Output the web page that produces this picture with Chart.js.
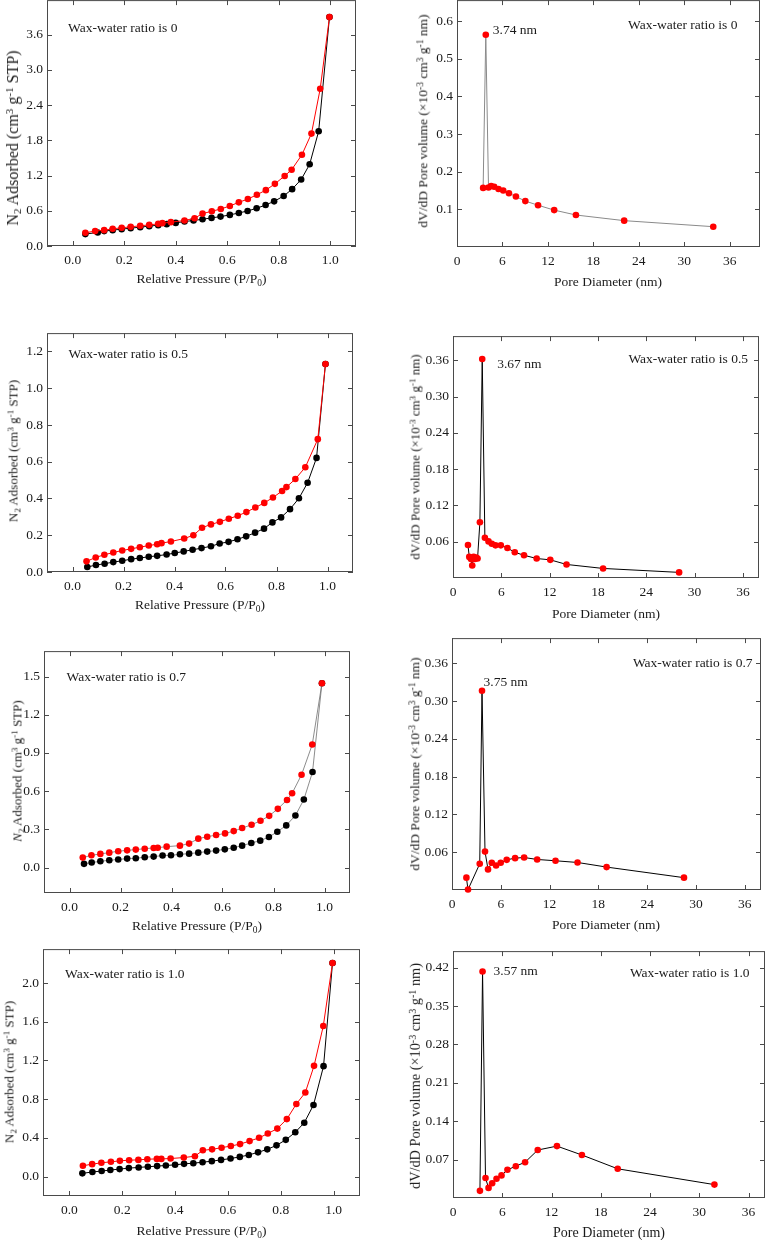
<!DOCTYPE html>
<html>
<head>
<meta charset="utf-8">
<title>N2 adsorption isotherms and pore size distributions</title>
<script src="https://cdn.jsdelivr.net/npm/chart.js@4.4.1/dist/chart.umd.min.js"></script>
<style>
  html, body { margin: 0; padding: 0; background: #fff; }
  body { width: 766px; height: 1240px; position: relative; overflow: hidden;
         font-family: "Liberation Serif", "Times New Roman", serif; color: #1a1a1a; }
  canvas { position: absolute; }
  .ttl { position: absolute; white-space: nowrap; line-height: 1; transform: translate(-50%, -50%); }
  .ttl.v { transform: translate(-50%, -50%) rotate(-90deg); }
  .ttl sup { font-size: 70%; vertical-align: 0.45em; line-height: 0; }
  .ttl sub { font-size: 70%; vertical-align: -0.3em; line-height: 0; }
</style>
</head>
<body>
<script>
/* ---- tick labels ---- */
const isoXTicks = [0, 0.2, 0.4, 0.6, 0.8, 1.0];
const poreXTicks = [0, 6, 12, 18, 24, 30, 36];
const r0IsoYTicks = [0, 0.6, 1.2, 1.8, 2.4, 3.0, 3.6];
const r0PoreYTicks = [0.1, 0.2, 0.3, 0.4, 0.5, 0.6];
const r05IsoYTicks = [0, 0.2, 0.4, 0.6, 0.8, 1.0, 1.2];
const r05PoreYTicks = [0.06, 0.12, 0.18, 0.24, 0.30, 0.36];
const r07IsoYTicks = [0, 0.3, 0.6, 0.9, 1.2, 1.5];
const r07PoreYTicks = [0.06, 0.12, 0.18, 0.24, 0.30, 0.36];
const r10IsoYTicks = [0, 0.4, 0.8, 1.2, 1.6, 2.0];
const r10PoreYTicks = [0.07, 0.14, 0.21, 0.28, 0.35, 0.42];

/* ---- wax-water ratio 0 ---- */
const r0AdsP = [0.049, 0.097, 0.122, 0.155, 0.190, 0.225, 0.262, 0.297, 0.332, 0.365, 0.400, 0.434, 0.469, 0.504, 0.539, 0.574, 0.610, 0.645, 0.679, 0.714, 0.749, 0.782, 0.819, 0.852, 0.887, 0.920, 0.955, 0.997];
const r0AdsV = [0.203, 0.231, 0.254, 0.270, 0.287, 0.304, 0.321, 0.338, 0.355, 0.372, 0.394, 0.417, 0.434, 0.456, 0.479, 0.501, 0.530, 0.563, 0.597, 0.642, 0.699, 0.761, 0.851, 0.969, 1.132, 1.392, 1.955, 3.90];
const r0DesP = [0.049, 0.087, 0.122, 0.155, 0.190, 0.225, 0.262, 0.297, 0.332, 0.348, 0.381, 0.434, 0.473, 0.504, 0.540, 0.575, 0.610, 0.645, 0.680, 0.715, 0.750, 0.785, 0.823, 0.850, 0.890, 0.927, 0.961, 0.997];
const r0DesV = [0.225, 0.254, 0.270, 0.293, 0.310, 0.327, 0.344, 0.360, 0.377, 0.389, 0.406, 0.434, 0.473, 0.552, 0.592, 0.631, 0.682, 0.744, 0.800, 0.873, 0.952, 1.059, 1.194, 1.300, 1.555, 1.915, 2.680, 3.90];
const r0PoreD = [3.45, 3.80, 4.16, 4.51, 4.91, 5.48, 6.10, 6.86, 7.78, 9.02, 10.70, 12.83, 15.70, 22.07, 33.83];
const r0PoreV = [0.157, 0.564, 0.158, 0.162, 0.160, 0.154, 0.150, 0.143, 0.134, 0.122, 0.111, 0.098, 0.085, 0.070, 0.054];

/* ---- wax-water ratio 0.5 ---- */
const r05AdsP = [0.058, 0.092, 0.126, 0.160, 0.195, 0.230, 0.264, 0.299, 0.332, 0.369, 0.401, 0.436, 0.471, 0.506, 0.543, 0.577, 0.612, 0.647, 0.681, 0.716, 0.751, 0.784, 0.818, 0.853, 0.888, 0.922, 0.957, 0.992];
const r05AdsV = [0.027, 0.038, 0.045, 0.054, 0.061, 0.070, 0.076, 0.083, 0.088, 0.095, 0.103, 0.112, 0.121, 0.130, 0.140, 0.155, 0.164, 0.178, 0.194, 0.214, 0.236, 0.270, 0.297, 0.342, 0.401, 0.486, 0.621, 1.132];
const r05DesP = [0.055, 0.091, 0.125, 0.160, 0.195, 0.230, 0.264, 0.299, 0.332, 0.349, 0.386, 0.438, 0.474, 0.508, 0.543, 0.578, 0.613, 0.648, 0.682, 0.717, 0.752, 0.786, 0.822, 0.839, 0.874, 0.913, 0.962, 0.992];
const r05DesV = [0.058, 0.079, 0.094, 0.106, 0.117, 0.126, 0.135, 0.144, 0.151, 0.157, 0.166, 0.182, 0.200, 0.241, 0.259, 0.273, 0.290, 0.306, 0.326, 0.351, 0.376, 0.405, 0.441, 0.462, 0.506, 0.570, 0.723, 1.132];
const r05PoreD = [1.86, 2.02, 2.23, 2.39, 2.56, 2.72, 2.89, 3.05, 3.34, 3.63, 3.96, 4.41, 4.82, 5.28, 5.94, 6.76, 7.67, 8.82, 10.39, 12.08, 14.10, 18.64, 28.08];
const r05PoreV = [0.0545, 0.0349, 0.0316, 0.0207, 0.0349, 0.0316, 0.0338, 0.0322, 0.0922, 0.3622, 0.0665, 0.0605, 0.0567, 0.0540, 0.0540, 0.0496, 0.0425, 0.0376, 0.0322, 0.0300, 0.0224, 0.0158, 0.0093];

/* ---- wax-water ratio 0.7 ---- */
const r07AdsP = [0.057, 0.087, 0.121, 0.156, 0.191, 0.226, 0.260, 0.295, 0.330, 0.365, 0.398, 0.433, 0.469, 0.505, 0.540, 0.575, 0.609, 0.644, 0.677, 0.713, 0.748, 0.782, 0.815, 0.850, 0.886, 0.919, 0.953, 0.990];
const r07AdsV = [0.029, 0.039, 0.049, 0.057, 0.063, 0.070, 0.073, 0.081, 0.086, 0.094, 0.096, 0.104, 0.109, 0.117, 0.125, 0.133, 0.143, 0.156, 0.172, 0.193, 0.211, 0.240, 0.281, 0.331, 0.409, 0.534, 0.750, 1.448];
const r07DesP = [0.052, 0.086, 0.121, 0.156, 0.191, 0.226, 0.260, 0.295, 0.330, 0.346, 0.381, 0.433, 0.469, 0.505, 0.540, 0.575, 0.610, 0.644, 0.677, 0.714, 0.749, 0.783, 0.817, 0.853, 0.873, 0.910, 0.952, 0.990];
const r07DesV = [0.078, 0.096, 0.107, 0.117, 0.128, 0.135, 0.141, 0.148, 0.154, 0.156, 0.164, 0.172, 0.188, 0.227, 0.242, 0.255, 0.268, 0.286, 0.310, 0.336, 0.367, 0.406, 0.461, 0.531, 0.583, 0.729, 0.966, 1.448];
const r07PoreD = [1.77, 1.97, 3.41, 3.69, 4.06, 4.43, 4.89, 5.42, 5.99, 6.73, 7.76, 8.87, 10.47, 12.73, 15.44, 19.01, 28.53];
const r07PoreV = [0.0196, 0.0007, 0.0416, 0.3165, 0.0610, 0.0327, 0.0432, 0.0390, 0.0432, 0.0479, 0.0506, 0.0516, 0.0485, 0.0464, 0.0437, 0.0364, 0.0196];

/* ---- wax-water ratio 1.0 ---- */
const r10AdsP = [0.049, 0.087, 0.122, 0.155, 0.190, 0.225, 0.262, 0.297, 0.332, 0.365, 0.400, 0.434, 0.469, 0.504, 0.539, 0.574, 0.610, 0.645, 0.679, 0.714, 0.749, 0.784, 0.819, 0.855, 0.889, 0.924, 0.962, 0.996];
const r10AdsV = [0.034, 0.048, 0.058, 0.068, 0.078, 0.088, 0.095, 0.102, 0.109, 0.115, 0.122, 0.132, 0.139, 0.149, 0.160, 0.173, 0.187, 0.204, 0.224, 0.251, 0.282, 0.323, 0.380, 0.458, 0.557, 0.740, 1.141, 2.207];
const r10DesP = [0.051, 0.086, 0.121, 0.157, 0.191, 0.226, 0.261, 0.295, 0.331, 0.348, 0.383, 0.433, 0.475, 0.505, 0.540, 0.576, 0.611, 0.646, 0.682, 0.718, 0.751, 0.787, 0.823, 0.859, 0.893, 0.926, 0.961, 0.996];
const r10DesV = [0.112, 0.129, 0.143, 0.153, 0.163, 0.170, 0.173, 0.180, 0.183, 0.183, 0.187, 0.197, 0.211, 0.272, 0.282, 0.299, 0.316, 0.336, 0.367, 0.401, 0.445, 0.496, 0.594, 0.750, 0.869, 1.144, 1.555, 2.207];
const r10PoreD = [3.28, 3.60, 3.96, 4.33, 4.77, 5.30, 5.91, 6.63, 7.65, 8.78, 10.32, 12.66, 15.70, 20.06, 31.84];
const r10PoreV = [0.013, 0.4128, 0.0364, 0.0184, 0.0268, 0.0352, 0.0412, 0.0514, 0.0580, 0.0652, 0.0874, 0.0946, 0.0784, 0.0532, 0.0244];

/* ---- look ---- */
const RED = "#ff0000";
const BLACK = "#000000";
const FONT = '"Liberation Serif", "Times New Roman", serif';
const YW = 50, XH = 30, PT = 10, PR = 10;   // axis / padding room around each plot box

const ISO_X = "Relative Pressure (P/P<sub>0</sub>)";
const ISO_Y = "N<sub>2</sub> Adsorbed (cm<sup>3</sup> g<sup>-1</sup> STP)";
const ISO_Y_IT = "<i>N</i><sub>2</sub> Adsorbed (cm<sup>3</sup> g<sup>-1</sup> STP)";
const PORE_X = "Pore Diameter (nm)";
const PORE_Y = "dV/dD Pore volume (&times;10<sup>-3</sup> cm<sup>3</sup> g<sup>-1</sup> nm)";

const iso = (desP, desV, adsP, adsV, line, lw) => [
  { xs: desP, ys: desV, dot: RED, line: line || RED, lw: lw || 1 },
  { xs: adsP, ys: adsV, dot: BLACK, line: line || BLACK, lw: lw || 1 },
];
const pore = (d, v, line) => [{ xs: d, ys: v, dot: RED, line: line, lw: 1 }];

const PANELS = [
  { box: [47, -2, 356, 246], x: [-0.1, 1.1], y: [0, 4.19], xt: isoXTicks, yt: r0IsoYTicks, xd: 1, yd: 1,
    series: iso(r0DesP, r0DesV, r0AdsP, r0AdsV),
    note: { text: "Wax-water ratio is 0", dx: 21, dy: 28, align: "left" },
    xTitle: [ISO_X, 201.5, 279, 13.5], yTitle: [ISO_Y, 13, 138, 16] },
  { box: [457, -2, 760, 247], x: [0, 40], y: [0, 0.656], xt: poreXTicks, yt: r0PoreYTicks, xd: 0, yd: 1,
    series: pore(r0PoreD, r0PoreV, "#8a8a8a"),
    note: { text: "Wax-water ratio is 0", dx: 22.5, dy: 25, align: "right" },
    peak: { text: "3.74 nm", dx: 7, dy: -4 },
    xTitle: [PORE_X, 608, 282, 13.5], yTitle: [PORE_Y, 423, 121, 13.5] },
  { box: [47, 331, 353, 572], x: [-0.1, 1.1], y: [0, 1.3], xt: isoXTicks, yt: r05IsoYTicks, xd: 1, yd: 1,
    series: iso(r05DesP, r05DesV, r05AdsP, r05AdsV),
    note: { text: "Wax-water ratio is 0.5", dx: 21.5, dy: 21, align: "left" },
    xTitle: [ISO_X, 200, 605, 13.5], yTitle: [ISO_Y, 13, 451, 13] },
  { box: [453, 334, 759, 578], x: [0, 38], y: [0, 0.4], xt: poreXTicks, yt: r05PoreYTicks, xd: 0, yd: 2,
    series: pore(r05PoreD, r05PoreV, BLACK),
    note: { text: "Wax-water ratio is 0.5", dx: 11, dy: 23.5, align: "right" },
    peak: { text: "3.67 nm", dx: 15, dy: 5.5 },
    xTitle: [PORE_X, 606, 614, 13.5], yTitle: [PORE_Y, 415, 457, 13] },
  { box: [44, 649, 350, 893], x: [-0.1, 1.1], y: [-0.2, 1.7], xt: isoXTicks, yt: r07IsoYTicks, xd: 1, yd: 1,
    series: iso(r07DesP, r07DesV, r07AdsP, r07AdsV, "#6e6e6e", 0.8),
    note: { text: "Wax-water ratio is 0.7", dx: 22.5, dy: 26, align: "left" },
    xTitle: [ISO_X, 197, 926, 13.5], yTitle: [ISO_Y_IT, 16.5, 771, 13] },
  { box: [452, 636, 761, 890], x: [0, 38], y: [0, 0.4], xt: poreXTicks, yt: r07PoreYTicks, xd: 0, yd: 2,
    series: pore(r07PoreD, r07PoreV, BLACK),
    note: { text: "Wax-water ratio is 0.7", dx: 8.5, dy: 25.5, align: "right" },
    peak: { text: "3.75 nm", dx: 1.5, dy: -8.5 },
    xTitle: [PORE_X, 606, 925, 13.5], yTitle: [PORE_Y, 415, 764, 13.5] },
  { box: [43, 947, 360, 1196], x: [-0.1, 1.1], y: [-0.2, 2.35], xt: isoXTicks, yt: r10IsoYTicks, xd: 1, yd: 1,
    series: iso(r10DesP, r10DesV, r10AdsP, r10AdsV),
    note: { text: "Wax-water ratio is 1.0", dx: 22, dy: 25.5, align: "left" },
    xTitle: [ISO_X, 201.5, 1231, 13.5], yTitle: [ISO_Y, 9, 1072, 13] },
  { box: [453, 949, 765, 1198], x: [0, 38], y: [0, 0.45], xt: poreXTicks, yt: r10PoreYTicks, xd: 0, yd: 2,
    series: pore(r10PoreD, r10PoreV, BLACK),
    note: { text: "Wax-water ratio is 1.0", dx: 15.5, dy: 22.5, align: "right" },
    peak: { text: "3.57 nm", dx: 11, dy: -0.5 },
    xTitle: [PORE_X, 609, 1233, 14], yTitle: [PORE_Y, 415, 1076, 14.3] },
];

// box + inward ticks on all four sides, drawn with the chart's own scales
const framePlugin = {
  id: "frame",
  beforeDatasetsDraw(chart, args, o) {
    const { ctx, chartArea: a, scales } = chart;
    const t = 5;
    ctx.save();
    ctx.strokeStyle = "#4a4a4a";
    ctx.lineWidth = 1;
    ctx.strokeRect(a.left + 0.5, a.top + 0.5, a.right - a.left - 1, a.bottom - a.top - 1);
    ctx.beginPath();
    o.xt.forEach((v) => {
      const px = Math.round(scales.x.getPixelForValue(v)) + 0.5;
      ctx.moveTo(px, a.bottom); ctx.lineTo(px, a.bottom - t);
      ctx.moveTo(px, a.top); ctx.lineTo(px, a.top + t);
    });
    o.yt.forEach((v) => {
      const py = Math.round(scales.y.getPixelForValue(v)) + 0.5;
      ctx.moveTo(a.left, py); ctx.lineTo(a.left + t, py);
      ctx.moveTo(a.right, py); ctx.lineTo(a.right - t, py);
    });
    ctx.stroke();
    ctx.restore();
  },
  afterDatasetsDraw(chart, args, o) {
    const { ctx, chartArea: a, scales } = chart;
    ctx.save();
    ctx.font = `13.5px ${FONT}`;
    ctx.fillStyle = "#1a1a1a";
    ctx.textBaseline = "middle";
    if (o.note) {
      ctx.textAlign = o.note.align;
      const nx = o.note.align === "left" ? a.left + o.note.dx : a.right - o.note.dx;
      ctx.fillText(o.note.text, nx, a.top + o.note.dy);
    }
    if (o.peak) {
      const s = o.series[0];
      let k = 0;
      s.ys.forEach((v, i) => { if (v > s.ys[k]) k = i; });
      ctx.textAlign = "left";
      ctx.fillText(o.peak.text,
        scales.x.getPixelForValue(s.xs[k]) + o.peak.dx,
        scales.y.getPixelForValue(s.ys[k]) + o.peak.dy);
    }
    ctx.restore();
  },
};

function addTitle(spec, vertical) {
  const [html, cx, cy, size] = spec;
  const d = document.createElement("div");
  d.className = vertical ? "ttl v" : "ttl";
  d.innerHTML = html;
  d.style.left = cx + "px";
  d.style.top = cy + "px";
  d.style.fontSize = size + "px";
  document.body.appendChild(d);
}

function buildPanel(p) {
  const [L, T, R, B] = p.box;
  const w = R - L + YW + PR, h = B - T + PT + XH;
  const cv = document.createElement("canvas");
  cv.width = w; cv.height = h;
  cv.style.left = (L - YW) + "px";
  cv.style.top = (T - PT) + "px";
  cv.style.width = w + "px";
  cv.style.height = h + "px";
  document.body.appendChild(cv);

  const tickFont = { family: FONT, size: 13.5 };
  const axis = (range, ticks, dec, isX) => ({
    type: "linear",
    position: isX ? "bottom" : "left",
    min: range[0], max: range[1],
    afterBuildTicks: (s) => { s.ticks = ticks.map((v) => ({ value: v })); },
    afterFit: (s) => { if (isX) s.height = XH; else s.width = YW; },
    grid: { display: false, drawTicks: false },
    border: { display: false },
    ticks: { font: tickFont, color: "#1a1a1a", padding: isX ? 6 : 4, autoSkip: false, maxRotation: 0,
             callback: (v) => Number(v).toFixed(dec) },
  });

  new Chart(cv, {
    type: "scatter",
    data: {
      datasets: p.series.map((s) => ({
        data: s.xs.map((x, i) => ({ x: x, y: s.ys[i] })),
        showLine: true,
        borderColor: s.line,
        borderWidth: s.lw,
        pointRadius: 3.3,
        pointBackgroundColor: s.dot,
        pointBorderWidth: 0,
        tension: 0,
        clip: 6,
      })),
    },
    options: {
      responsive: false,
      animation: false,
      devicePixelRatio: 1,
      layout: { padding: { left: 0, top: PT, right: PR, bottom: 0 } },
      plugins: {
        legend: { display: false },
        tooltip: { enabled: false },
        frame: { xt: p.xt, yt: p.yt, note: p.note, peak: p.peak, series: p.series },
      },
      scales: { x: axis(p.x, p.xt, p.xd, true), y: axis(p.y, p.yt, p.yd, false) },
    },
    plugins: [framePlugin],
  });

  addTitle(p.xTitle, false);
  addTitle(p.yTitle, true);
}

PANELS.forEach(buildPanel);
</script>
</body>
</html>
